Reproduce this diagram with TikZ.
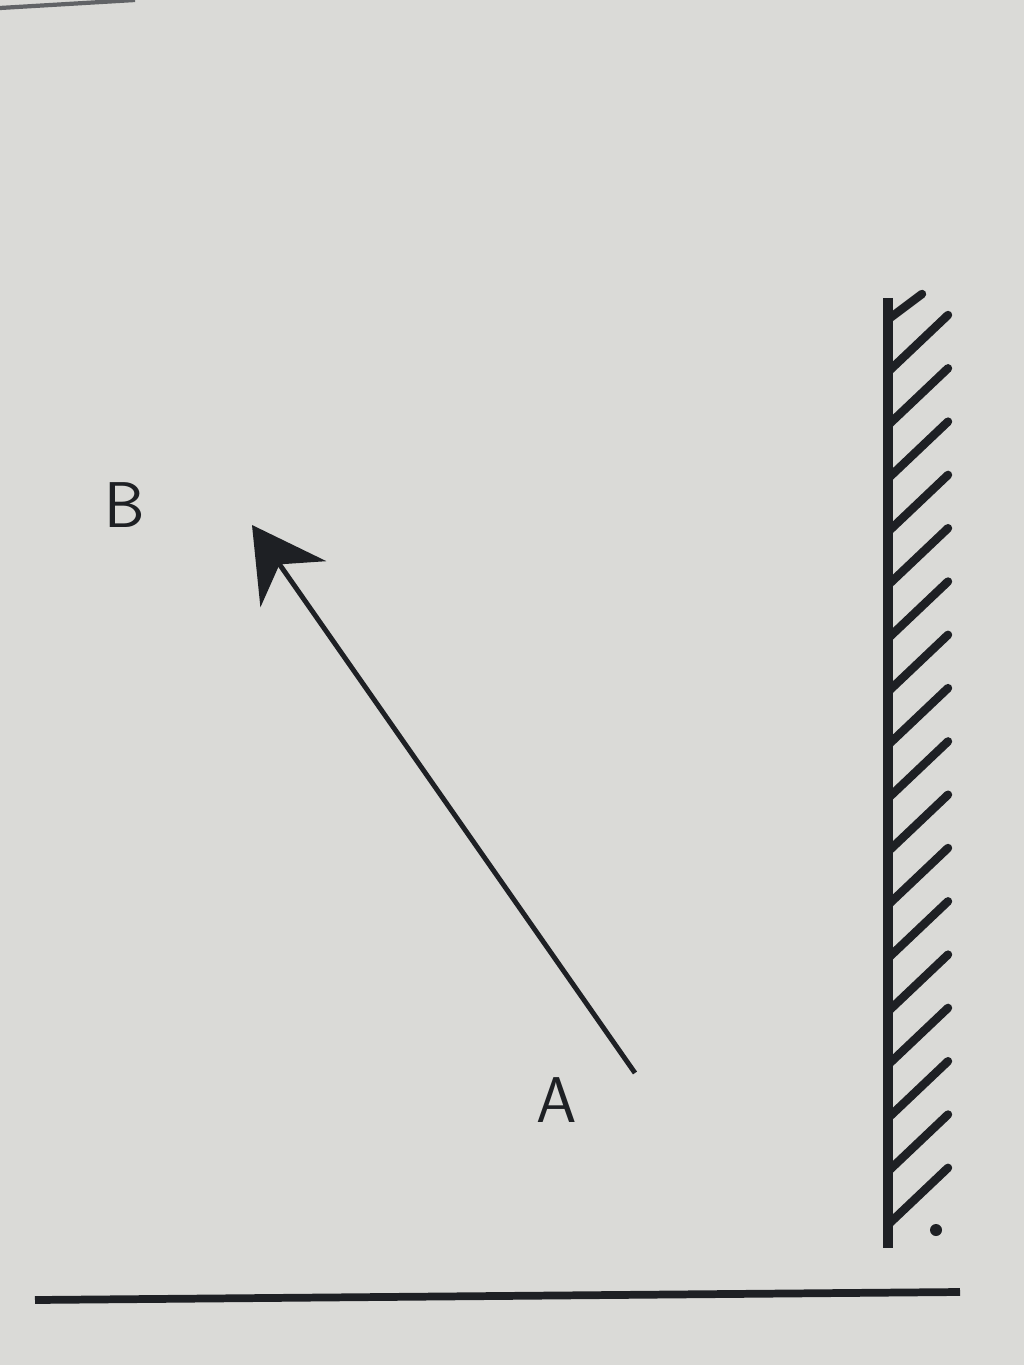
\documentclass[tikz,border=0pt]{standalone}
\usetikzlibrary{arrows.meta}
\definecolor{paper}{RGB}{218,218,215}
\definecolor{ink}{RGB}{30,32,36}
\begin{document}
\begin{tikzpicture}[x=0.025cm,y=-0.025cm]
\fill[paper](0,0)rectangle(1024,1365);
\useasboundingbox(0,0)rectangle(1024,1365);
\draw[color=ink!70,line width=3pt](0,8)--(135,0);
% mirror
\coordinate (top) at (888,298);
\coordinate (bot) at (888,1248);
\draw[color=ink,line width=7pt](top)--(bot);
\draw[color=ink,line width=6pt,line cap=round](890,318)--(922,294);
\foreach \y in {370,423.3,...,1224}
  \draw[color=ink,line width=6pt,line cap=round](890,\y)--(948,\y-55);
\fill[ink](936,1230) circle (6);
% floor
\draw[color=ink,line width=5.5pt](35,1300)--(960,1292);
% arrow
\coordinate (tail) at (635,1073);
\coordinate (tip) at (252,525);
\draw[color=ink,line width=3.5pt,-{Stealth[length=1.8cm,width=2cm,inset=0.6cm]}](tail)--(tip);
\node[font=\fontsize{46}{50}\sffamily,color=ink] (B) at (125,505) {B};
\node[font=\fontsize{46}{50}\sffamily,color=ink] (A) at (557,1100) {A};
\end{tikzpicture}
\end{document}
